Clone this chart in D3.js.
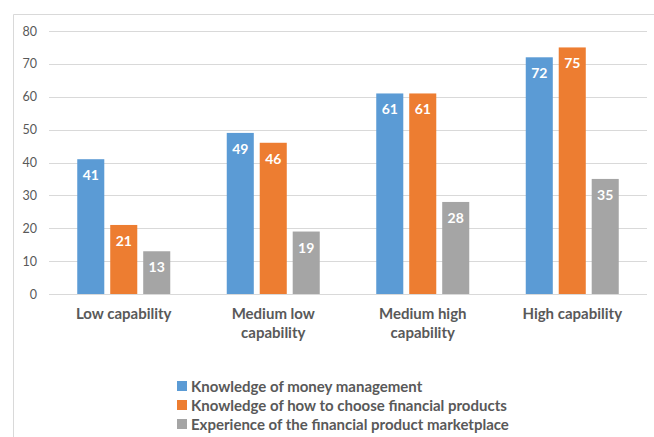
<!DOCTYPE html>
<html><head><meta charset="utf-8">
<script src="https://cdn.jsdelivr.net/npm/d3@7"></script>
<style>body{margin:0;background:#fff}svg{display:block}</style>
</head><body>
<script>
const categories = [["Low capability"], ["Medium low","capability"], ["Medium high","capability"], ["High capability"]];
const seriesNames = ["Knowledge of money management", "Knowledge of how to choose financial products", "Experience of the financial product marketplace"];
const moneyMgmt = [41, 49, 61, 72];
const chooseProducts = [21, 46, 61, 75];
const marketplace = [13, 19, 28, 35];
const yTicks = [0, 10, 20, 30, 40, 50, 60, 70, 80];
const colors = ["#5b9bd5", "#ed7d31", "#a5a5a5"];
const series = [moneyMgmt, chooseProducts, marketplace];

const W = 654, H = 437;
const svg = d3.select("body").append("svg").attr("width", W).attr("height", H);
const font = "Lato, 'Open Sans', sans-serif";

// border
svg.append("path").attr("d", "M13.5,437 V14.5 H654").attr("fill", "none").attr("stroke", "#d9d9d9");

const x0 = d3.scaleBand().domain(d3.range(categories.length)).range([49, 647]);
const y = d3.scaleLinear().domain([0, 80]).range([294, 31]);
const x1 = d3.scaleBand().domain(d3.range(3)).range([0, 93]).paddingInner(0.18);

// gridlines
svg.append("g").selectAll("line").data(yTicks).join("line")
  .attr("x1", 49).attr("x2", 647)
  .attr("y1", d => Math.round(y(d)) + 0.5).attr("y2", d => Math.round(y(d)) + 0.5)
  .attr("stroke", "#d9d9d9").attr("stroke-width", 1);

// y axis labels
const yAxis = d3.axisLeft(y).tickValues(yTicks).tickSize(0).tickPadding(0);
const ya = svg.append("g").attr("transform", "translate(37,0)").call(yAxis);
ya.select(".domain").remove();
ya.selectAll("text").attr("fill", "#595959").attr("font-family", font).attr("font-size", 12.5);

// bars
const groups = svg.append("g").selectAll("g").data(categories).join("g")
  .attr("transform", (d, i) => `translate(${x0(i) + (x0.bandwidth() - 93) / 2},0)`);
groups.each(function(c, i) {
  const g = d3.select(this);
  series.forEach((s, k) => {
    g.append("rect").attr("x", x1(k)).attr("width", x1.bandwidth())
      .attr("y", y(s[i])).attr("height", y(0) - y(s[i])).attr("fill", colors[k]);
    g.append("text").attr("x", x1(k) + x1.bandwidth() / 2).attr("y", y(s[i]) + 21)
      .attr("text-anchor", "middle").attr("fill", "#fff").attr("font-weight", "bold")
      .attr("font-family", font).attr("font-size", 14).text(s[i]);
  });
});

// category labels
const cat = svg.append("g").selectAll("text").data(categories).join("text")
  .attr("x", (d, i) => x0(i) + x0.bandwidth() / 2).attr("y", 319)
  .attr("text-anchor", "middle").attr("fill", "#595959").attr("font-weight", "bold")
  .attr("font-family", font).attr("font-size", 15);
cat.each(function(d) {
  const el = d3.select(this);
  const cx = el.attr("x");
  el.selectAll("tspan").data(d).join("tspan")
    .attr("x", cx).attr("dy", (t, j) => j ? 19 : 0).text(t => t);
});

// legend
const leg = svg.append("g").selectAll("g").data(seriesNames).join("g")
  .attr("transform", (d, i) => `translate(177,${381 + i * 19})`);
leg.append("rect").attr("width", 10).attr("height", 10).attr("fill", (d, i) => colors[i]);
leg.append("text").attr("x", 14).attr("y", 10.5).attr("fill", "#595959").attr("font-weight", "bold")
  .attr("font-family", font).attr("font-size", 15).text(d => d);
</script>
</body></html>
